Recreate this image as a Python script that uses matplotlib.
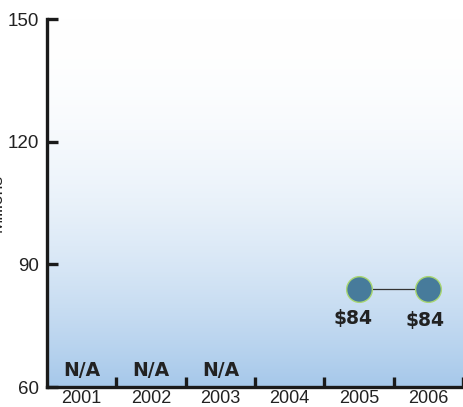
import numpy as np
import matplotlib.pyplot as plt
from matplotlib.colors import to_rgb

years = ["2001", "2002", "2003", "2004", "2005", "2006"]
values = [None, None, None, None, 84, 84]
na_years = ["2001", "2002", "2003"]
na_label = "N/A"
y_ticks = [60, 90, 120, 150]

fig = plt.figure(figsize=(4.63, 4.07), dpi=100)
ax = fig.add_axes([47 / 463, 20 / 407, 416 / 463, 368 / 407])
ax.set_xlim(0, 6)
ax.set_ylim(60, 150)

# vertical gradient background: white at top, soft blue at the baseline
top = np.array(to_rgb("#ffffff"))
bot = np.array(to_rgb("#a6c8ea"))
t = np.linspace(0, 1, 256)[:, None] ** 2
grad = top + (bot - top) * t
ax.imshow(grad[:, None, :], extent=[0, 6, 60, 150], origin="upper",
          aspect="auto", zorder=0, interpolation="bicubic")
ax.set_xlim(0, 6)
ax.set_ylim(60, 150)

# data points
xs = [i + 0.5 for i, v in enumerate(values) if v is not None]
ys = [v for v in values if v is not None]
ax.plot(xs, ys, color="#333333", lw=0.9, zorder=2)
ax.plot(xs, ys, "o", ms=18.5, mfc="#477b9b", mec="#a9d672", mew=1.0,
        ls="none", zorder=3)
offsets = [(-4.3, -21.5), (-2.2, -23)]
for (x, y), off in zip(zip(xs, ys), offsets):
    ax.annotate(f"${y:g}", (x, y), xytext=off,
                textcoords="offset points", ha="center", va="center",
                fontsize=13.5, fontweight="bold", color="#222222",
                family="DejaVu Sans")

for i, yr in enumerate(years):
    if yr in na_years:
        ax.annotate(na_label, (i + 0.5, 60), xytext=(0, 12),
                    textcoords="offset points", ha="center", va="center",
                    fontsize=13.5, fontweight="bold", color="#222222",
                    family="DejaVu Sans")

# axes styling
for side in ["top", "right"]:
    ax.spines[side].set_visible(False)
for side in ["left", "bottom"]:
    ax.spines[side].set_linewidth(2.4)
    ax.spines[side].set_color("#1a1a1a")
    ax.spines[side].set_zorder(4)

ax.set_yticks(y_ticks)
ax.set_yticklabels([str(v) for v in y_ticks])
ax.tick_params(axis="y", direction="in", length=8, width=2.4, color="#1a1a1a",
               pad=6, labelsize=13.5, labelcolor="#222222")
for lab in ax.get_yticklabels():
    lab.set_family("Liberation Sans")

ax.set_xticks(range(1, 7))
ax.set_xticklabels([])
ax.set_xticks([i + 0.5 for i in range(6)], minor=True)
ax.set_xticklabels(years, minor=True)
ax.tick_params(axis="x", which="major", direction="in", length=7, width=2.4,
               color="#1a1a1a")
ax.tick_params(axis="x", which="minor", length=0, pad=2.5, labelsize=13,
               labelcolor="#222222")
for lab in ax.get_xticklabels(minor=True):
    lab.set_family("Liberation Sans")

for tl in ax.xaxis.get_major_ticks():
    tl.tick1line.set_clip_on(False)

fig.text(-3 / 463, 1 - 203 / 407, "Millions", rotation=90, ha="center",
         va="center", fontsize=12.5, family="Liberation Sans", color="#222222")

fig.savefig("out.png", dpi=100)
